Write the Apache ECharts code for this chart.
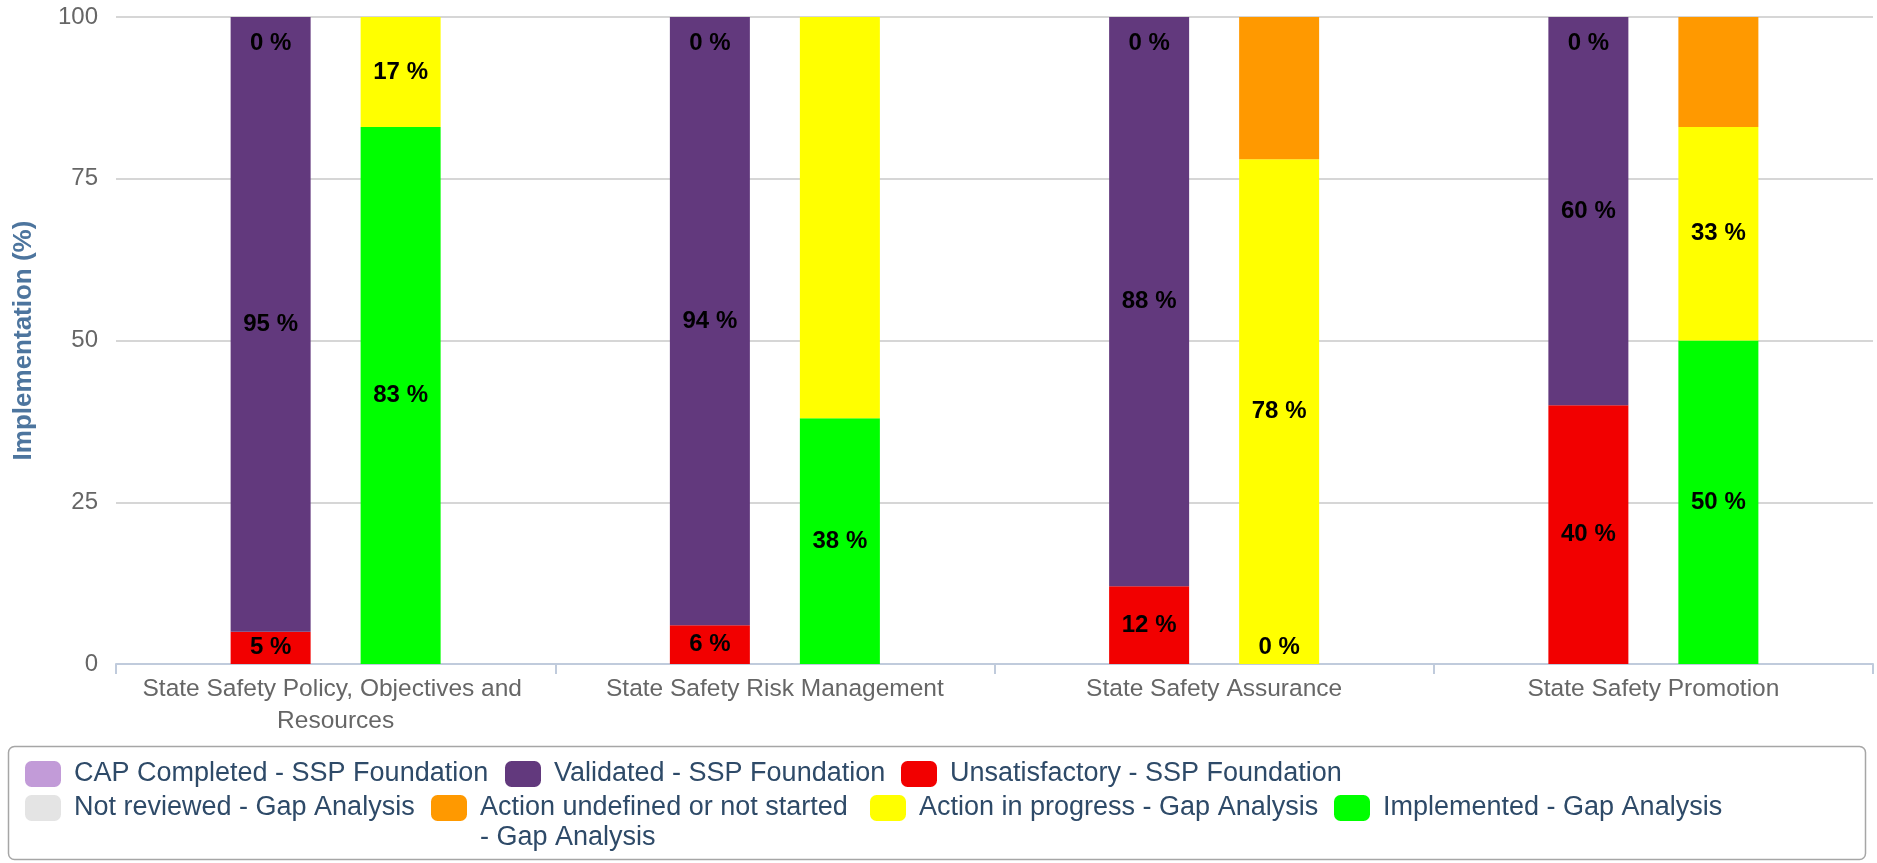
<!DOCTYPE html>
<html>
<head>
<meta charset="utf-8">
<script src="https://cdn.jsdelivr.net/npm/echarts@6/dist/echarts.min.js"></script>
<style>
html,body{margin:0;padding:0;background:#fff;}
#chart{width:1877px;height:863px;}
</style>
</head>
<body>
<div id="chart"></div>
<script>
// ---- data ----
const categories = ['State Safety Policy, Objectives and Resources', 'State Safety Risk Management', 'State Safety Assurance', 'State Safety Promotion'];
const unsatisfactory = [5, 6, 12, 40];
const validated = [95, 94, 88, 60];
const capCompleted = [0, 0, 0, 0];
const implemented = [83, 38, 0, 50];
const inProgress = [17, 62, 78, 33];
const undefinedAction = [0, 0, 22, 17];
const notReviewed = [0, 0, 0, 0];
const yTicks = [0, 25, 50, 75, 100];
// which data labels are visible in the reference
const inProgressLabelShown = [true, false, true, true];

const seriesNames = {
  cap: 'CAP Completed - SSP Foundation',
  val: 'Validated - SSP Foundation',
  uns: 'Unsatisfactory - SSP Foundation',
  nr: 'Not reviewed - Gap Analysis',
  und: 'Action undefined or not started - Gap Analysis',
  prog: 'Action in progress - Gap Analysis',
  impl: 'Implemented - Gap Analysis'
};
const colors = {
  cap: '#c29bd8', val: '#62397d', uns: '#f20000',
  nr: '#e4e4e4', und: '#ff9900', prog: '#ffff00', impl: '#00ff00'
};

const FONT = '"Liberation Sans", Arial, sans-serif';
const labelBase = {
  show: true, position: 'inside', formatter: '{c} %',
  fontFamily: FONT, fontSize: 24, fontWeight: 'bold', color: '#000'
};

function bar(key, values, stack, labelFn) {
  return {
    name: seriesNames[key], type: 'bar', stack: stack,
    barWidth: 80, barGap: '62.5%',
    itemStyle: { color: colors[key] },
    label: { show: false },
    emphasis: { disabled: true },
    data: values.map((v, i) => {
      const d = { value: v };
      const l = labelFn ? labelFn(v, i) : null;
      if (l) d.label = Object.assign({}, labelBase, l);
      return d;
    })
  };
}

const series = [
  bar('uns', unsatisfactory, 'ssp', () => ({})),
  bar('val', validated, 'ssp', () => ({})),
  bar('cap', capCompleted, 'ssp', () => ({ position: 'insideTop', distance: 14 })),
  bar('impl', implemented, 'gap', (v) => v === 0 ? { position: 'insideBottom', distance: 5 } : {}),
  bar('prog', inProgress, 'gap', (v, i) => inProgressLabelShown[i] ? {} : null),
  bar('und', undefinedAction, 'gap', null),
  bar('nr', notReviewed, 'gap', null)
];

function legendItem(key, left, top, fmt) {
  return {
    data: [seriesNames[key]],
    left: left, top: top, padding: 0,
    orient: 'horizontal',
    icon: 'roundRect', itemWidth: 36, itemHeight: 26,
    selectedMode: false,
    formatter: fmt || '{name}',
    textStyle: {
      fontFamily: FONT, fontSize: 27, color: '#2e4a68', lineHeight: 30,
      padding: [0, 0, 0, 8]
    }
  };
}

const option = {
  animation: false,
  color: Object.values(colors),
  grid: { left: 116, right: 4, top: 17, bottom: 199, containLabel: false },
  xAxis: {
    type: 'category', data: categories, boundaryGap: true,
    axisLine: { lineStyle: { color: '#c0cbdc', width: 2 } },
    axisTick: { show: true, length: 10, lineStyle: { color: '#c0cbdc', width: 2 } },
    axisLabel: {
      fontFamily: FONT, fontSize: 24.5, color: '#666', margin: 9,
      lineHeight: 32, width: 430, overflow: 'break', interval: 0
    }
  },
  yAxis: {
    type: 'value', min: yTicks[0], max: yTicks[yTicks.length - 1], interval: yTicks[1] - yTicks[0],
    name: 'Implementation (%)', nameLocation: 'middle', nameRotate: 90, nameGap: 79,
    nameTextStyle: { fontFamily: FONT, fontSize: 26, fontWeight: 'bold', color: '#4d759e' },
    axisLine: { show: false }, axisTick: { show: false },
    axisLabel: { fontFamily: FONT, fontSize: 24, color: '#666', margin: 18 },
    splitLine: { lineStyle: { color: '#d6d6d6', width: 2 } }
  },
  legend: [
    legendItem('cap', 25, 759),
    legendItem('val', 505, 759),
    legendItem('uns', 901, 759),
    legendItem('nr', 25, 793),
    legendItem('und', 431, 763, (n) => ' \n' + n.replace('started - ', 'started\n- ')),
    legendItem('prog', 870, 793),
    legendItem('impl', 1334, 793)
  ],
  graphic: [{
    type: 'rect', silent: true, z: -1,
    shape: { x: 8.5, y: 746.5, width: 1857, height: 113, r: 6 },
    style: { fill: 'none', stroke: '#a6a6a6', lineWidth: 1.5 }
  }],
  series: series
};

const chart = echarts.init(document.getElementById('chart'), null, { renderer: 'canvas' });
chart.setOption(option);
</script>
</body>
</html>
